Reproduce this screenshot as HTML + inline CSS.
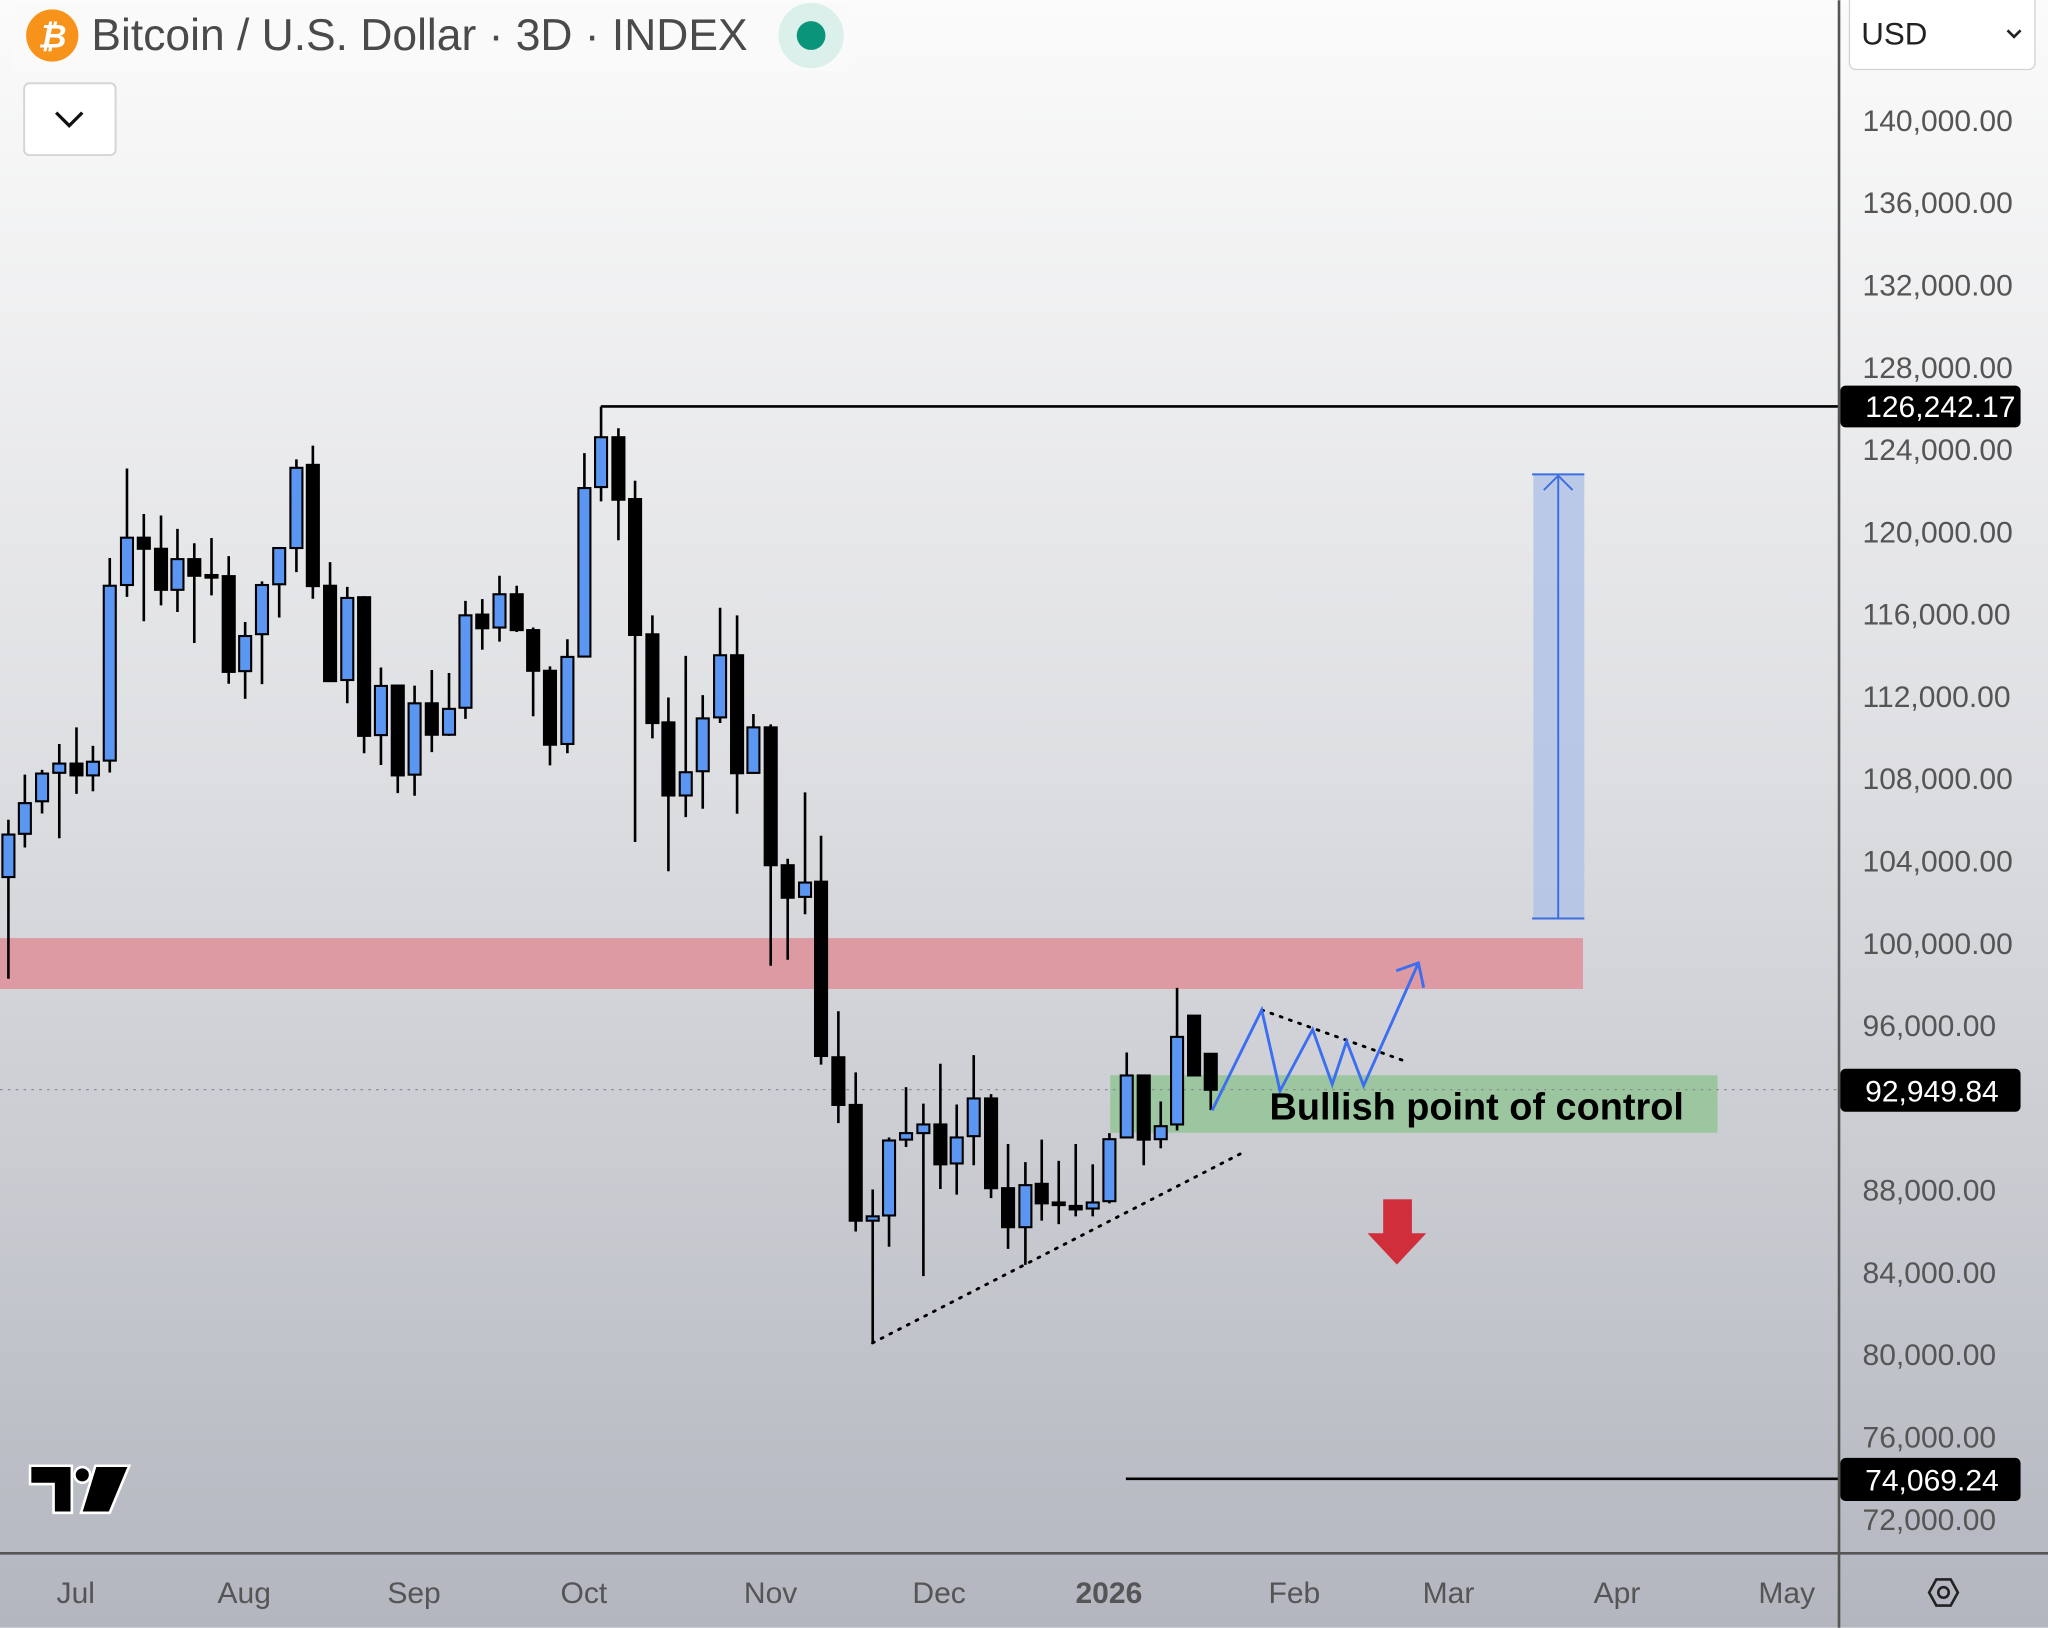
<!DOCTYPE html>
<html><head><meta charset="utf-8"><style>
html,body{margin:0;padding:0;width:2048px;height:1628px;overflow:hidden;}
svg{display:block}
text{font-family:"Liberation Sans",sans-serif;}
</style></head><body>
<svg id="s" width="2048" height="1628" viewBox="0 0 1568 1246" xmlns="http://www.w3.org/2000/svg">
<defs>
<linearGradient id="bg" x1="0" y1="0" x2="0" y2="1">
<stop offset="0" stop-color="#fbfbfb"/><stop offset="0.45" stop-color="#dfe0e3"/><stop offset="1" stop-color="#b3b6bf"/>
</linearGradient>
</defs>
<rect x="0" y="0" width="1568" height="1246" fill="url(#bg)"/>
<!-- red band -->
<rect x="0" y="718" width="1212" height="39" fill="#de9aa3"/>
<!-- green box -->
<rect x="850" y="823" width="465" height="44" fill="#9cc6a0"/>
<!-- blue measure -->
<rect x="1174" y="363" width="39" height="340" fill="#b3c3e8" opacity="0.85"/>
<line x1="1173" y1="363" x2="1213" y2="363" stroke="#3d6ee0" stroke-width="1.5"/>
<line x1="1173" y1="703" x2="1213" y2="703" stroke="#3d6ee0" stroke-width="1.5"/>
<line x1="1193" y1="703" x2="1193" y2="364" stroke="#3d6ee0" stroke-width="1.5"/>
<polyline points="1182,375 1193,364 1204,375" fill="none" stroke="#3d6ee0" stroke-width="1.5"/>
<!-- dotted price line -->
<line x1="0" y1="834" x2="1408" y2="834" stroke="#8a8d95" stroke-width="1" stroke-dasharray="2,4"/>
<!-- high line -->
<line x1="460" y1="311" x2="1408" y2="311" stroke="#000" stroke-width="2"/>
<line x1="862" y1="1132" x2="1408" y2="1132" stroke="#000" stroke-width="2"/>
<g id="candles"></g>
<!-- dotted trend lines -->
<line x1="668" y1="1028" x2="950" y2="883" stroke="#000" stroke-width="2.2" stroke-dasharray="1.5,6" stroke-linecap="round"/>
<line x1="966" y1="773" x2="1078" y2="813" stroke="#000" stroke-width="2.2" stroke-dasharray="1.5,6" stroke-linecap="round"/>
<!-- zigzag -->
<polyline points="928,850 966,773 980,835 1005,788 1020,830 1031,797 1044,831 1086,737" fill="none" stroke="#3b6ef0" stroke-width="2.2" stroke-linejoin="miter"/>
<polyline points="1069,743 1086,737 1090,756" fill="none" stroke="#3b6ef0" stroke-width="2.2"/>
<text x="972" y="857" font-size="29" font-weight="bold" fill="#000">Bullish point of control</text>
<!-- red arrow -->
<rect x="1059" y="918" width="22" height="27" fill="#d12e3c"/>
<polygon points="1047,944 1092,944 1069.5,968" fill="#d12e3c"/>
<!-- axes -->
<line x1="1408" y1="0" x2="1408" y2="1246" stroke="#555" stroke-width="2"/>
<line x1="0" y1="1189" x2="1568" y2="1189" stroke="#555" stroke-width="2"/>
<g font-size="23" fill="#555" id="ylab"></g>
<g font-size="23" fill="#555" text-anchor="middle">
<text x="58" y="1227">Jul</text><text x="187" y="1227">Aug</text><text x="317" y="1227">Sep</text>
<text x="447" y="1227">Oct</text><text x="590" y="1227">Nov</text><text x="719" y="1227">Dec</text>
<text x="849" y="1227" font-weight="bold">2026</text><text x="991" y="1227">Feb</text>
<text x="1109" y="1227">Mar</text><text x="1238" y="1227">Apr</text><text x="1368" y="1227">May</text>
</g>
<!-- price tags -->
<rect x="1409" y="295" width="138" height="32" rx="4" fill="#000"/>
<text x="1428" y="319" font-size="23" fill="#fff">126,242.17</text>
<rect x="1409" y="818" width="138" height="33" rx="4" fill="#000"/>
<text x="1428" y="843" font-size="23" fill="#fff">92,949.84</text>
<rect x="1409" y="1116" width="138" height="33" rx="4" fill="#000"/>
<text x="1428" y="1141" font-size="23" fill="#fff">74,069.24</text>
<!-- hex icon -->
<polygon points="1477,1219 1482.5,1209 1493.5,1209 1499,1219 1493.5,1229 1482.5,1229" fill="none" stroke="#222" stroke-width="2"/>
<circle cx="1488" cy="1219" r="4" fill="none" stroke="#222" stroke-width="2"/>
<!-- USD -->
<rect x="1416" y="-4" width="142" height="57" rx="5" fill="#fff" stroke="#d0d2d6"/>
<text x="1425" y="34" font-size="24" fill="#222">USD</text>
<polyline points="1537,23 1542,28 1547,23" fill="none" stroke="#222" stroke-width="2"/>
<!-- header -->
<rect x="10" y="2" width="640" height="52" fill="#fafafa" opacity="0.9"/>
<circle cx="40" cy="27" r="20" fill="#f7931a"/>
<text x="40" y="36" font-size="25" font-weight="bold" fill="#fff" text-anchor="middle" font-style="italic">₿</text>
<text x="70" y="38" font-size="34" fill="#4a4a4a">Bitcoin / U.S. Dollar · 3D · INDEX</text>
<circle cx="621" cy="27" r="25" fill="#dbefeb"/>
<circle cx="621" cy="27" r="11" fill="#0a9479"/>
<rect x="18.5" y="63.5" width="70" height="55" rx="4" fill="#fff" stroke="#d5d5d8" stroke-width="1.5"/>
<polyline points="43,86 53,96 63,86" fill="none" stroke="#111" stroke-width="2.5"/>
<!-- TV logo -->
<g fill="#000" stroke="#fff" stroke-width="2">
<path d="M23,1122 H55 V1158 H41 V1136 H23 Z"/>
<circle cx="63" cy="1129" r="6"/>
<path d="M73,1122 H99 L84,1158 H62 Z"/>
</g>
<script>
var S="http://www.w3.org/2000/svg",g=document.getElementById('candles');
function C(x,h,t,b,l,c){
 var w=document.createElementNS(S,'line');w.setAttribute('x1',x);w.setAttribute('x2',x);w.setAttribute('y1',h);w.setAttribute('y2',l);w.setAttribute('stroke','#000');w.setAttribute('stroke-width','2');g.appendChild(w);
 var r=document.createElementNS(S,'rect');var hh=Math.max(b-t,2);r.setAttribute('x',x-4.6);r.setAttribute('y',t);r.setAttribute('width',9.2);r.setAttribute('height',hh);
 r.setAttribute('fill',c=='B'?'#5a96f2':'#000');r.setAttribute('stroke','#000');r.setAttribute('stroke-width','1.6');g.appendChild(r);}
var z1=[[22,1055,1095,1210,1485,'B'],[65,933,1010,1093,1130,'B'],[110,920,930,1005,1038,'B'],[155,850,903,928,1105,'B'],[200,805,903,935,985,'K'],[243,855,898,935,978,'B'],[287,347,422,895,927,'B'],[332,105,292,420,452,'B'],[376,228,292,322,518,'K'],[421,232,322,433,475,'K'],[464,268,350,433,493,'B'],[508,307,350,395,577,'K'],[553,293,393,398,448,'K'],[598,342,396,655,687,'K'],[641,520,558,653,728,'B'],[685,410,420,553,688,'B'],[730,320,320,418,508,'B'],[775,80,103,320,385,'B'],[818,43,95,423,457,'K'],[863,358,422,680,680,'K'],[908,425,455,677,740,'B'],[952,450,453,828,875,'K'],[996,643,693,826,907,'B'],[1040,690,692,935,983,'K'],[1084,692,740,933,990,'B'],[1129,650,740,825,872,'K'],[1174,658,755,825,828,'B'],[1217,463,502,752,782,'B'],[1261,458,500,537,595,'K'],[1306,395,445,535,573,'B'],[1351,422,445,542,547,'K'],[1394,535,542,652,775,'K'],[1438,640,652,852,908,'K']];
z1.forEach(function(a){var f=function(v){return v/3.533+328.8};C(a[0]/3.415,f(a[1]),f(a[2]),f(a[3]),f(a[4]),a[5]);});
var z2=[[22,660,713,975,1003,'B'],[73,100,205,712,712,'B'],[123,-40,52,202,245,'B'],[175,25,52,240,362,'K'],[225,183,238,647,1270,'K'],[277,588,645,912,958,'K'],[325,835,910,1130,1358,'K'],[377,710,1060,1130,1195,'B'],[428,828,898,1057,1170,'B'],[480,565,708,895,912,'B'],[531,588,708,1063,1185,'K'],[580,885,925,1062,1062,'B']];
z2.forEach(function(a){var f=function(v){return v/3.93+321.3};C(a[0]/3.918+428.8,f(a[1]),f(a[2]),f(a[3]),f(a[4]),a[5]);});
var z3=[[32,105,112,430,662,'K'],[83,415,430,505,648,'K'],[135,262,470,503,543,'B'],[183,362,468,870,890,'K'],[235,767,873,983,1025,'K'],[287,908,983,1250,1275,'K'],[338,1178,1240,1250,1530,'B'],[387,1058,1065,1238,1310,'B'],[438,942,1048,1063,1080,'B'],[490,980,1028,1048,1378,'B'],[541,888,1028,1120,1177,'K'],[590,982,1058,1118,1190,'B'],[641,868,968,1055,1122,'B'],[693,958,968,1175,1198,'K'],[744,1073,1175,1265,1315,'K'],[796,1115,1168,1265,1352,'B'],[845,1063,1165,1210,1250,'K'],[896,1112,1208,1212,1258,'K'],[947,1073,1216,1224,1240,'K'],[998,1120,1208,1222,1240,'B'],[1048,1048,1062,1205,1210,'B'],[1100,862,915,1058,1058,'B'],[1151,913,915,1063,1122,'K'],[1202,975,1032,1062,1083,'B'],[1251,713,826,1028,1042,'B'],[1302,777,777,915,915,'K'],[1352,865,865,948,995,'K']];
z3.forEach(function(a){var f=function(v){return v/3.013+519.5};C(a[0]/3.918+581.9,f(a[1]),f(a[2]),f(a[3]),f(a[4]),a[5]);});
var yl=document.getElementById('ylab'),hide={128000:1,92000:1,76000:0};
for(var p=140000;p>=72000;p-=4000){if(p==92000)continue;var t=document.createElementNS(S,'text');var y=92+(140000-p)*0.01575;t.setAttribute('x',1426);t.setAttribute('y',y+8);t.textContent=p.toLocaleString('en-US')+'.00';yl.appendChild(t);}
</script>
</svg>
</body></html>
